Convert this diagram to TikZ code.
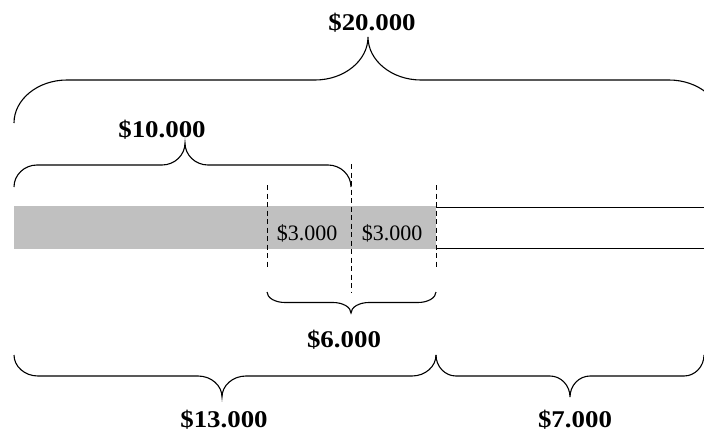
\documentclass[tikz,border=0pt]{standalone}
\usepackage{fontspec}
\setmainfont{Liberation Serif}
\newfontfamily\lblfont[FakeStretch=1.12]{Liberation Serif}
\tikzset{
  brline/.style={line width=1.1pt, black},
  dashv/.style={line width=0.9pt, dash pattern=on 5pt off 3.5pt},
  bigl/.style={font=\lblfont\fontsize{24}{24}\selectfont\bfseries, inner sep=0pt},
  smalll/.style={font=\fontsize{22}{22}\selectfont, inner sep=0pt},
}
% brace: x0, xm, x1, yEnd, signed half-height, curl width
\newcommand\curlybr[6]{%
  \draw[brline] (#1,#4)
    .. controls (#1,{#4+0.55*(#5)}) and ({#1+0.45*(#6)},{#4+(#5)}) .. ({#1+(#6)},{#4+(#5)})
    -- ({#2-(#6)},{#4+(#5)})
    .. controls ({#2-0.45*(#6)},{#4+(#5)}) and (#2,{#4+1.45*(#5)}) .. (#2,{#4+2*(#5)})
    .. controls (#2,{#4+1.45*(#5)}) and ({#2+0.45*(#6)},{#4+(#5)}) .. ({#2+(#6)},{#4+(#5)})
    -- ({#3-(#6)},{#4+(#5)})
    .. controls ({#3-0.45*(#6)},{#4+(#5)}) and (#3,{#4+0.55*(#5)}) .. (#3,#4);}
\begin{document}
\begin{tikzpicture}[x=1pt,y=-1pt]
\useasboundingbox (0,0) rectangle (704,434);
\clip (0,0) rectangle (704,434);
% bar
\fill[fill={rgb,255:red,192;green,192;blue,192}] (14,206) rectangle (436,249);
\draw[line width=1pt] (436,207.5) -- (704,207.5);
\draw[line width=1pt] (436,248) -- (704,248);
% dashed lines
\draw[dashv] (267,185) -- (267,268);
\draw[dashv] (351,164) -- (351,292);
\draw[dashv] (436,185) -- (436,268);
% braces
\curlybr{14}{368}{722}{123}{-43}{53}
\curlybr{14}{185}{351}{187}{-22}{23}
\curlybr{267}{351}{436}{292}{10.5}{18}
\curlybr{14}{222}{436}{355}{21}{24}
\curlybr{436}{570}{704}{355}{21}{20}
% labels
\node[bigl] (l20) at (372,23) {\$20.000};
\node[bigl] (l10) at (162,130) {\$10.000};
\node[smalll] (l3a) at (307,233) {\$3.000};
\node[smalll] (l3b) at (392,233) {\$3.000};
\node[bigl] (l6) at (344,340) {\$6.000};
\node[bigl] (l13) at (224,420) {\$13.000};
\node[bigl] (l7) at (575,420) {\$7.000};
\end{tikzpicture}
\end{document}
